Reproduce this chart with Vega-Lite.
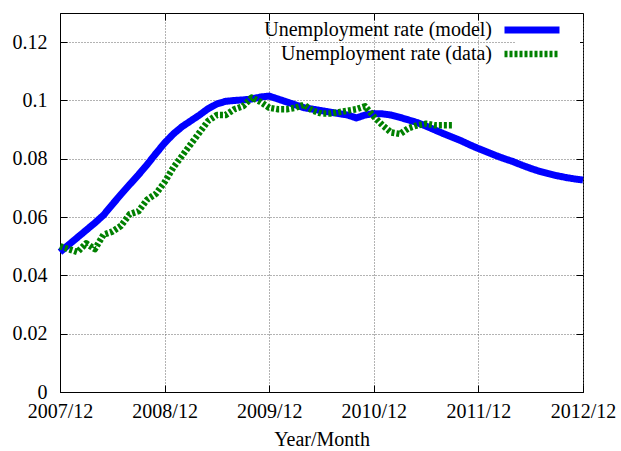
{
  "$schema": "https://vega.github.io/schema/vega-lite/v6.json",
  "width": 523,
  "height": 379,
  "autosize": {"type": "none"},
  "padding": {"left": 60, "top": 13, "right": 38, "bottom": 59},
  "background": "white",
  "config": {
    "font": "Liberation Serif",
    "view": {"stroke": "black", "strokeWidth": 1},
    "axis": {
      "labelFont": "Liberation Serif",
      "labelFontSize": 20,
      "labelColor": "black",
      "titleFont": "Liberation Serif",
      "titleFontSize": 20,
      "titleFontWeight": "normal",
      "titleColor": "black",
      "domainColor": "black",
      "tickColor": "black",
      "tickSize": -7,
      "gridColor": "#666666",
      "gridDash": [1, 2],
      "gridWidth": 1
    }
  },
  "data": {
    "values": [
      {"m": 0, "v": 0.048, "s": "Unemployment rate (model)"},
      {"m": 1, "v": 0.0505, "s": "Unemployment rate (model)"},
      {"m": 2, "v": 0.053, "s": "Unemployment rate (model)"},
      {"m": 3, "v": 0.0555, "s": "Unemployment rate (model)"},
      {"m": 4, "v": 0.058, "s": "Unemployment rate (model)"},
      {"m": 5, "v": 0.0607, "s": "Unemployment rate (model)"},
      {"m": 6, "v": 0.0643, "s": "Unemployment rate (model)"},
      {"m": 7, "v": 0.0678, "s": "Unemployment rate (model)"},
      {"m": 8, "v": 0.0712, "s": "Unemployment rate (model)"},
      {"m": 9, "v": 0.0745, "s": "Unemployment rate (model)"},
      {"m": 10, "v": 0.078, "s": "Unemployment rate (model)"},
      {"m": 11, "v": 0.0818, "s": "Unemployment rate (model)"},
      {"m": 12, "v": 0.0854, "s": "Unemployment rate (model)"},
      {"m": 13, "v": 0.0885, "s": "Unemployment rate (model)"},
      {"m": 14, "v": 0.091, "s": "Unemployment rate (model)"},
      {"m": 15, "v": 0.093, "s": "Unemployment rate (model)"},
      {"m": 16, "v": 0.095, "s": "Unemployment rate (model)"},
      {"m": 17, "v": 0.0972, "s": "Unemployment rate (model)"},
      {"m": 18, "v": 0.0988, "s": "Unemployment rate (model)"},
      {"m": 19, "v": 0.0997, "s": "Unemployment rate (model)"},
      {"m": 20, "v": 0.1, "s": "Unemployment rate (model)"},
      {"m": 21, "v": 0.1002, "s": "Unemployment rate (model)"},
      {"m": 22, "v": 0.1005, "s": "Unemployment rate (model)"},
      {"m": 23, "v": 0.1012, "s": "Unemployment rate (model)"},
      {"m": 24, "v": 0.1015, "s": "Unemployment rate (model)"},
      {"m": 25, "v": 0.1005, "s": "Unemployment rate (model)"},
      {"m": 26, "v": 0.0995, "s": "Unemployment rate (model)"},
      {"m": 27, "v": 0.0985, "s": "Unemployment rate (model)"},
      {"m": 28, "v": 0.0975, "s": "Unemployment rate (model)"},
      {"m": 29, "v": 0.097, "s": "Unemployment rate (model)"},
      {"m": 30, "v": 0.0965, "s": "Unemployment rate (model)"},
      {"m": 31, "v": 0.096, "s": "Unemployment rate (model)"},
      {"m": 32, "v": 0.0955, "s": "Unemployment rate (model)"},
      {"m": 33, "v": 0.095, "s": "Unemployment rate (model)"},
      {"m": 34, "v": 0.094, "s": "Unemployment rate (model)"},
      {"m": 35, "v": 0.095, "s": "Unemployment rate (model)"},
      {"m": 36, "v": 0.0955, "s": "Unemployment rate (model)"},
      {"m": 37, "v": 0.0954, "s": "Unemployment rate (model)"},
      {"m": 38, "v": 0.095, "s": "Unemployment rate (model)"},
      {"m": 39, "v": 0.0942, "s": "Unemployment rate (model)"},
      {"m": 40, "v": 0.0933, "s": "Unemployment rate (model)"},
      {"m": 41, "v": 0.0924, "s": "Unemployment rate (model)"},
      {"m": 42, "v": 0.0912, "s": "Unemployment rate (model)"},
      {"m": 43, "v": 0.0899, "s": "Unemployment rate (model)"},
      {"m": 44, "v": 0.0886, "s": "Unemployment rate (model)"},
      {"m": 45, "v": 0.0874, "s": "Unemployment rate (model)"},
      {"m": 46, "v": 0.0862, "s": "Unemployment rate (model)"},
      {"m": 47, "v": 0.0848, "s": "Unemployment rate (model)"},
      {"m": 48, "v": 0.0835, "s": "Unemployment rate (model)"},
      {"m": 49, "v": 0.0823, "s": "Unemployment rate (model)"},
      {"m": 50, "v": 0.0811, "s": "Unemployment rate (model)"},
      {"m": 51, "v": 0.08, "s": "Unemployment rate (model)"},
      {"m": 52, "v": 0.079, "s": "Unemployment rate (model)"},
      {"m": 53, "v": 0.0778, "s": "Unemployment rate (model)"},
      {"m": 54, "v": 0.0767, "s": "Unemployment rate (model)"},
      {"m": 55, "v": 0.0757, "s": "Unemployment rate (model)"},
      {"m": 56, "v": 0.0749, "s": "Unemployment rate (model)"},
      {"m": 57, "v": 0.0742, "s": "Unemployment rate (model)"},
      {"m": 58, "v": 0.0736, "s": "Unemployment rate (model)"},
      {"m": 59, "v": 0.0731, "s": "Unemployment rate (model)"},
      {"m": 60, "v": 0.0727, "s": "Unemployment rate (model)"},
      {"m": 0, "v": 0.05, "s": "Unemployment rate (data)"},
      {"m": 1, "v": 0.049, "s": "Unemployment rate (data)"},
      {"m": 2, "v": 0.048, "s": "Unemployment rate (data)"},
      {"m": 3, "v": 0.051, "s": "Unemployment rate (data)"},
      {"m": 4, "v": 0.049, "s": "Unemployment rate (data)"},
      {"m": 5, "v": 0.054, "s": "Unemployment rate (data)"},
      {"m": 6, "v": 0.055, "s": "Unemployment rate (data)"},
      {"m": 7, "v": 0.057, "s": "Unemployment rate (data)"},
      {"m": 8, "v": 0.061, "s": "Unemployment rate (data)"},
      {"m": 9, "v": 0.062, "s": "Unemployment rate (data)"},
      {"m": 10, "v": 0.066, "s": "Unemployment rate (data)"},
      {"m": 11, "v": 0.068, "s": "Unemployment rate (data)"},
      {"m": 12, "v": 0.072, "s": "Unemployment rate (data)"},
      {"m": 13, "v": 0.077, "s": "Unemployment rate (data)"},
      {"m": 14, "v": 0.081, "s": "Unemployment rate (data)"},
      {"m": 15, "v": 0.085, "s": "Unemployment rate (data)"},
      {"m": 16, "v": 0.089, "s": "Unemployment rate (data)"},
      {"m": 17, "v": 0.093, "s": "Unemployment rate (data)"},
      {"m": 18, "v": 0.095, "s": "Unemployment rate (data)"},
      {"m": 19, "v": 0.095, "s": "Unemployment rate (data)"},
      {"m": 20, "v": 0.097, "s": "Unemployment rate (data)"},
      {"m": 21, "v": 0.098, "s": "Unemployment rate (data)"},
      {"m": 22, "v": 0.101, "s": "Unemployment rate (data)"},
      {"m": 23, "v": 0.0995, "s": "Unemployment rate (data)"},
      {"m": 24, "v": 0.0975, "s": "Unemployment rate (data)"},
      {"m": 25, "v": 0.097, "s": "Unemployment rate (data)"},
      {"m": 26, "v": 0.097, "s": "Unemployment rate (data)"},
      {"m": 27, "v": 0.0975, "s": "Unemployment rate (data)"},
      {"m": 28, "v": 0.0985, "s": "Unemployment rate (data)"},
      {"m": 29, "v": 0.0965, "s": "Unemployment rate (data)"},
      {"m": 30, "v": 0.0955, "s": "Unemployment rate (data)"},
      {"m": 31, "v": 0.0955, "s": "Unemployment rate (data)"},
      {"m": 32, "v": 0.096, "s": "Unemployment rate (data)"},
      {"m": 33, "v": 0.0965, "s": "Unemployment rate (data)"},
      {"m": 34, "v": 0.097, "s": "Unemployment rate (data)"},
      {"m": 35, "v": 0.098, "s": "Unemployment rate (data)"},
      {"m": 36, "v": 0.0945, "s": "Unemployment rate (data)"},
      {"m": 37, "v": 0.0915, "s": "Unemployment rate (data)"},
      {"m": 38, "v": 0.089, "s": "Unemployment rate (data)"},
      {"m": 39, "v": 0.0885, "s": "Unemployment rate (data)"},
      {"m": 40, "v": 0.0905, "s": "Unemployment rate (data)"},
      {"m": 41, "v": 0.0915, "s": "Unemployment rate (data)"},
      {"m": 42, "v": 0.092, "s": "Unemployment rate (data)"},
      {"m": 43, "v": 0.0915, "s": "Unemployment rate (data)"},
      {"m": 44, "v": 0.0915, "s": "Unemployment rate (data)"},
      {"m": 45, "v": 0.0915, "s": "Unemployment rate (data)"}
    ]
  },
  "resolve": {"axis": {"x": "independent", "y": "independent"}},
  "layer": [
    {
      "mark": {"type": "line", "opacity": 0},
      "encoding": {
        "x": {
          "field": "m",
          "type": "quantitative",
          "scale": {"domain": [0, 60], "nice": false, "zero": false},
          "axis": {"orient": "top", "values": [0, 12, 24, 36, 48, 60], "labels": false, "grid": false, "domain": false, "title": null}
        },
        "y": {
          "field": "v",
          "type": "quantitative",
          "scale": {"domain": [0, 0.13], "nice": false},
          "axis": {"orient": "right", "values": [0, 0.02, 0.04, 0.06, 0.08, 0.1, 0.12], "labels": false, "grid": false, "domain": false, "title": null}
        }
      }
    },
    {
      "mark": {"type": "line", "strokeCap": "butt", "strokeJoin": "round"},
      "encoding": {
        "x": {
          "field": "m",
          "type": "quantitative",
          "scale": {"domain": [0, 60], "nice": false, "zero": false},
          "axis": {
            "orient": "bottom",
            "values": [0, 12, 24, 36, 48, 60],
            "labelExpr": "(2007 + datum.value / 12) + '/12'",
            "labelFont": "Liberation Serif",
            "labelPadding": 16,
            "labelFlush": false,
            "grid": true,
            "title": "Year/Month",
            "titleFont": "Liberation Serif",
            "titlePadding": 8
          }
        },
        "y": {
          "field": "v",
          "type": "quantitative",
          "scale": {"domain": [0, 0.13], "nice": false},
          "axis": {
            "orient": "left",
            "values": [0, 0.02, 0.04, 0.06, 0.08, 0.1, 0.12],
            "format": "~g",
            "labelFont": "Liberation Serif",
            "labelPadding": 20,
            "grid": true,
            "title": null
          }
        },
        "color": {
          "field": "s",
          "type": "nominal",
          "scale": {
            "domain": ["Unemployment rate (model)", "Unemployment rate (data)"],
            "range": ["#0000ff", "#008000"]
          },
          "legend": {
            "title": null,
            "orient": "none",
            "legendX": 456,
            "legendY": 1,
            "symbolType": "M-5,0L5,0",
            "symbolSize": 121,
            "labelAlign": "right",
            "labelBaseline": "middle",
            "labelOffset": -50,
            "labelLimit": 400,
            "labelFont": "Liberation Serif",
            "labelFontSize": 20,
            "labelColor": "black",
            "rowPadding": -6,
            "fillColor": "white",
            "padding": 6
          }
        },
        "strokeDash": {
          "field": "s",
          "type": "nominal",
          "scale": {
            "domain": ["Unemployment rate (model)", "Unemployment rate (data)"],
            "range": [[1, 0], [3, 2]]
          }
        },
        "strokeWidth": {
          "field": "s",
          "type": "nominal",
          "scale": {
            "domain": ["Unemployment rate (model)", "Unemployment rate (data)"],
            "range": [7, 6.5]
          }
        }
      }
    }
  ]
}
